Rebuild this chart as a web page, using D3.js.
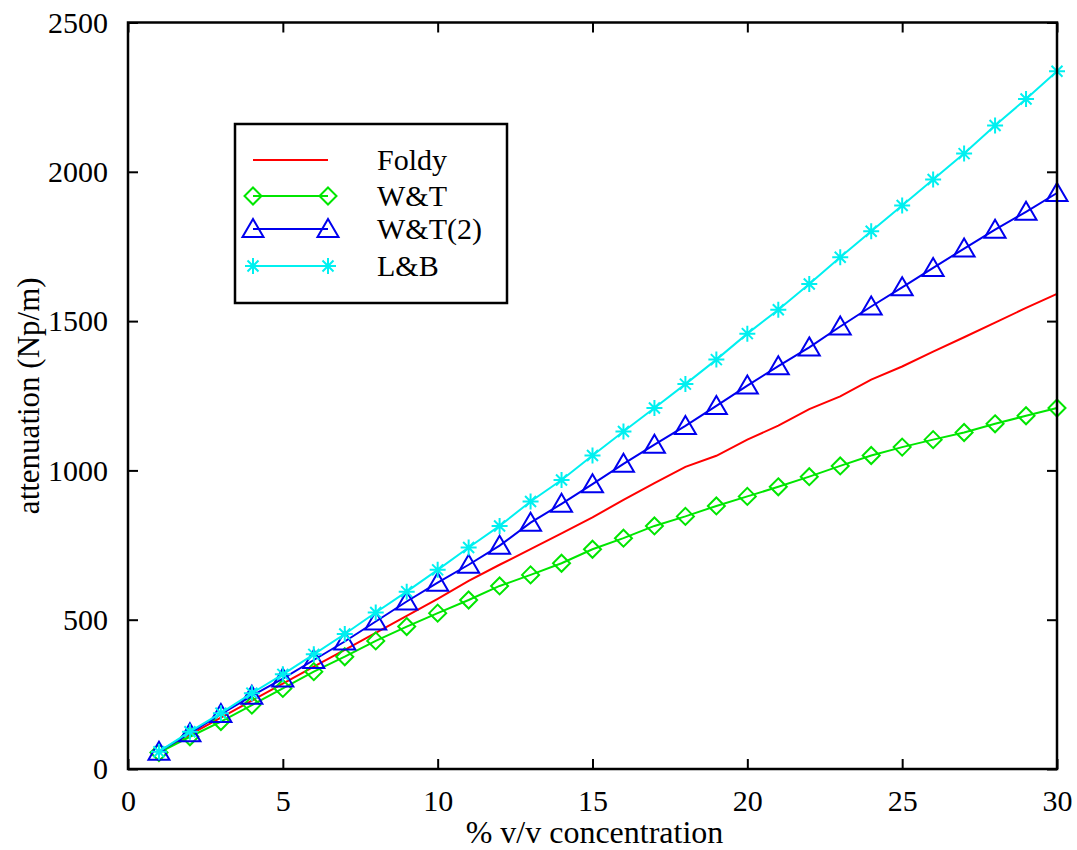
<!DOCTYPE html>
<html>
<head>
<meta charset="utf-8">
<script src="https://cdn.jsdelivr.net/npm/d3@7"></script>
</head>
<body style="margin:0">
<svg id="chart" width="1077" height="850"></svg>
<script>
const concentration = d3.range(1, 31);
const foldy = [58,115,172,229,286,343,399,456,513,570,630,684,736,789,843,901,957,1012,1049,1103,1150,1205,1248,1304,1348,1398,1446,1495,1544,1591];
const wt = [55,108,159,214,270,326,376,429,477,522,566,613,650,689,736,773,814,846,881,913,945,979,1015,1050,1078,1103,1127,1156,1183,1209];
const wt2 = [58,120,184,245,303,365,427,494,561,624,684,748,825,888,954,1022,1086,1149,1216,1284,1349,1412,1482,1549,1613,1678,1743,1806,1866,1929];
const lb = [58,125,187,254,317,384,452,524,594,667,742,814,896,968,1050,1130,1209,1289,1371,1458,1538,1624,1714,1801,1887,1974,2061,2155,2244,2337];
const xTicks = [0, 5, 10, 15, 20, 25, 30];
const yTicks = [0, 500, 1000, 1500, 2000, 2500];
const seriesNames = ["Foldy", "W&T", "W&T(2)", "L&B"];

const series = [
  { name: seriesNames[0], values: foldy, color: "#ff0000", marker: "none" },
  { name: seriesNames[1], values: wt, color: "#00e600", marker: "diamond" },
  { name: seriesNames[2], values: wt2, color: "#0000ee", marker: "triangle" },
  { name: seriesNames[3], values: lb, color: "#00f0f0", marker: "star" }
];

const FONT = "'Liberation Serif'";
function serif(sel, size) {
  return sel.style("font-family", FONT, "important").style("font-size", size + "px", "important");
}
const L = 128, R = 1057, T = 22.5, B = 769;
const svg = d3.select("#chart");
const x = d3.scaleLinear().domain([0, 30]).range([L, R]);
const y = d3.scaleLinear().domain([0, 2500]).range([B, T]);

const tickLen = 10;
const fs = 30;
const fmt = d3.format("d");
function styleAxis(g) {
  g.attr("font-family", null).attr("font-size", null);
  g.select(".domain").remove();
  g.selectAll("line").attr("stroke", "#000").attr("stroke-width", 2);
  serif(g.selectAll("text"), fs).attr("fill", "#000");
}
svg.append("g").attr("transform", `translate(0,${B})`)
  .call(d3.axisBottom(x).tickValues(xTicks).tickFormat(fmt).tickSizeInner(-tickLen).tickSizeOuter(0).tickPadding(21))
  .call(styleAxis);
svg.append("g").attr("transform", `translate(0,${T})`)
  .call(d3.axisTop(x).tickValues(xTicks).tickSizeInner(-tickLen).tickSizeOuter(0).tickFormat(""))
  .call(styleAxis);
svg.append("g").attr("transform", `translate(${L},0)`)
  .call(d3.axisLeft(y).tickValues(yTicks).tickFormat(fmt).tickSizeInner(-tickLen).tickSizeOuter(0).tickPadding(20))
  .call(styleAxis);
svg.append("g").attr("transform", `translate(${R},0)`)
  .call(d3.axisRight(y).tickValues(yTicks).tickSizeInner(-tickLen).tickSizeOuter(0).tickFormat(""))
  .call(styleAxis);

const line = d3.line().x((d, i) => x(concentration[i])).y(d => y(d));

function drawMarker(g, type, cx, cy, color) {
  if (type === "diamond") {
    const s = 8.5;
    g.append("path").attr("d", `M${cx},${cy - s}L${cx + s},${cy}L${cx},${cy + s}L${cx - s},${cy}Z`)
      .attr("fill", "none").attr("stroke", color).attr("stroke-width", 2);
  } else if (type === "triangle") {
    g.append("path").attr("d", `M${cx},${cy - 10}L${cx + 10.5},${cy + 8}L${cx - 10.5},${cy + 8}Z`)
      .attr("fill", "none").attr("stroke", color).attr("stroke-width", 2);
  } else if (type === "star") {
    const s = 8, d = 5.5;
    g.append("path").attr("d", `M${cx},${cy - s}V${cy + s}M${cx - s},${cy}H${cx + s}M${cx - d},${cy - d}L${cx + d},${cy + d}M${cx - d},${cy + d}L${cx + d},${cy - d}`)
      .attr("fill", "none").attr("stroke", color).attr("stroke-width", 2);
  }
}

series.forEach(s => {
  const g = svg.append("g");
  g.append("path").datum(s.values).attr("d", line)
    .attr("fill", "none").attr("stroke", s.color).attr("stroke-width", 2);
  if (s.marker !== "none") {
    s.values.forEach((v, i) => drawMarker(g, s.marker, x(concentration[i]), y(v), s.color));
  }
});

svg.append("rect").attr("x", L).attr("y", T).attr("width", R - L).attr("height", B - T)
  .attr("fill", "none").attr("stroke", "#000").attr("stroke-width", 2.5);

serif(svg.append("text").attr("x", (L + R) / 2 + 2).attr("y", 843).attr("text-anchor", "middle"), 32)
  .text("% v/v concentration");
serif(svg.append("text").attr("transform", `translate(39,${(T + B) / 2}) rotate(-90)`).attr("text-anchor", "middle"), 31)
  .text("attenuation (Np/m)");

const lg = svg.append("g");
lg.append("rect").attr("x", 235).attr("y", 124).attr("width", 272).attr("height", 179)
  .attr("fill", "#fff").attr("stroke", "#000").attr("stroke-width", 2.5);
const rowY = [160, 196, 229, 266];
series.forEach((s, i) => {
  const ry = rowY[i];
  lg.append("line").attr("x1", 253).attr("x2", 328).attr("y1", ry).attr("y2", ry)
    .attr("stroke", s.color).attr("stroke-width", 2);
  if (s.marker !== "none") { drawMarker(lg, s.marker, 253, ry, s.color); drawMarker(lg, s.marker, 328, ry, s.color); }
  serif(lg.append("text").attr("x", 377).attr("y", ry + 10), 30).text(s.name);
});
</script>
</body>
</html>
